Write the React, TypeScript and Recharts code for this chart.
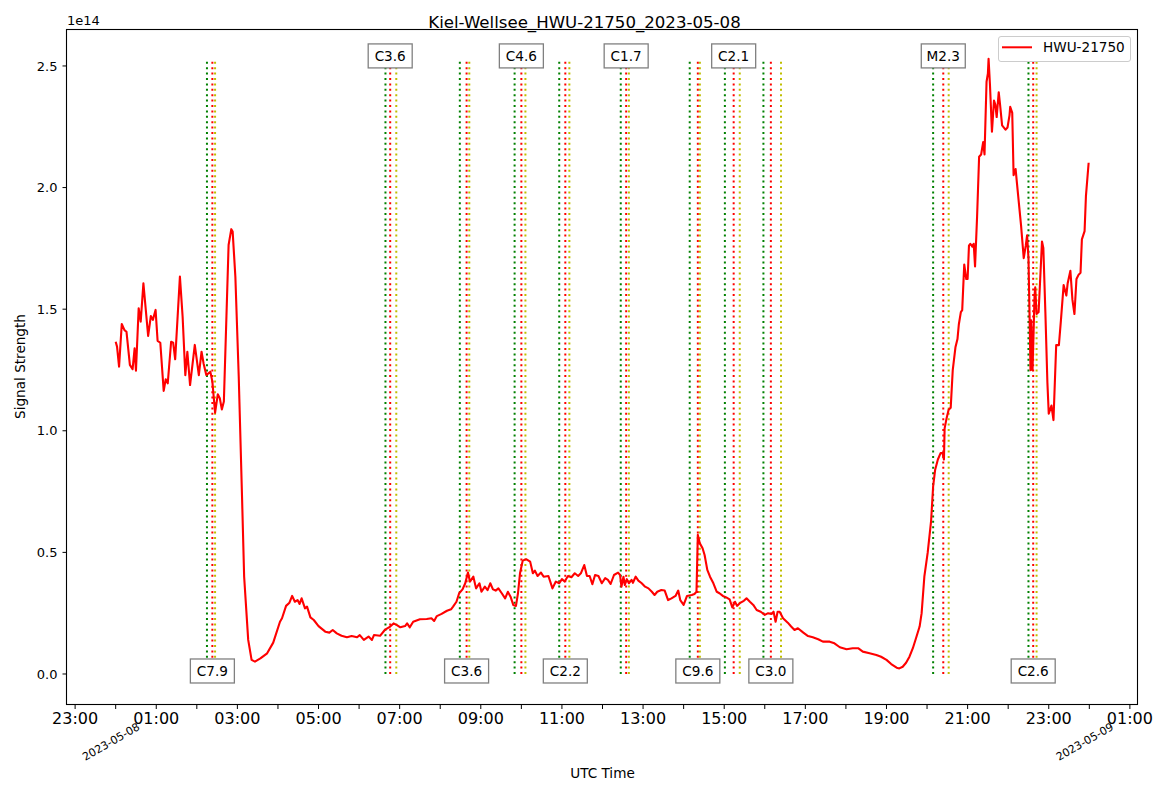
import React from 'react';
import {
  ComposedChart,
  Line,
  XAxis,
  YAxis,
  ReferenceLine,
  ReferenceDot,
  Legend,
} from 'recharts';

const FONT = '"DejaVu Sans", Verdana, sans-serif';
const TITLE = 'Kiel-Wellsee_HWU-21750_2023-05-08';
const SERIES_NAME = 'HWU-21750';

// minutes since 2023-05-08 00:00 UTC
const MINUTES = [
  0, 2, 5, 9, 13, 16, 21, 25, 28, 30, 34, 37, 41, 48, 52, 55, 59, 62, 66, 71,
  74, 77, 82, 85, 88, 95, 99, 103, 106, 110, 117, 123, 127, 130, 134, 140, 143, 147, 151, 154,
  157, 160, 167, 171, 173, 177, 182, 187, 190, 196, 201, 206, 214, 224, 233, 243, 246,
  252, 257, 261, 265, 269, 272, 275, 280, 283, 288, 293, 300, 310, 316, 321, 327, 334, 342, 349, 357,
  361, 367, 374, 379, 382, 391, 398, 406, 411, 416, 421, 428, 431, 435, 440, 450, 460, 467, 471, 475,
  482, 490, 496, 499, 504, 508, 513, 517, 521, 524, 529, 533, 538, 541, 546, 550, 554, 558, 562, 566,
  571, 576, 580, 584, 588, 592, 595, 598, 602, 607, 613, 617, 620, 624, 629, 633, 640, 646, 651, 656,
  660, 664, 669, 674, 679, 684, 688, 693, 697, 701, 705, 709, 714, 719, 724, 728, 732, 737, 743,
  746, 748, 751, 753, 756, 759, 763, 765, 769, 773, 778, 783, 788, 793, 797, 801, 807, 812, 817, 822,
  828, 832, 835, 840, 845, 852, 856, 859, 861, 864, 868, 871, 875, 879, 884, 889, 893, 898, 903, 908,
  912, 916, 919, 923, 929, 933, 938, 943, 948, 954, 960, 965, 970, 973, 976, 979, 982, 987, 994, 999,
  1004, 1009, 1017, 1024, 1031, 1039, 1046, 1056, 1063, 1071, 1081, 1090, 1098, 1105, 1115, 1125, 1132, 1140, 1147, 1155,
  1159, 1164, 1169, 1174, 1179, 1184, 1189, 1192, 1196, 1201, 1206,
  1209, 1212, 1216, 1220, 1223, 1225, 1226, 1229, 1232, 1235, 1238, 1242, 1245, 1247, 1250, 1252, 1255, 1258, 1260, 1262,
  1264, 1267, 1269, 1271, 1274, 1277, 1280, 1283, 1285, 1288, 1290, 1291, 1293, 1296, 1299, 1301, 1303, 1306, 1308, 1311,
  1316, 1319, 1322, 1323, 1326, 1328, 1331, 1333, 1336, 1339, 1343, 1346, 1348, 1350, 1352, 1353, 1354, 1356, 1359, 1360,
  1362, 1365, 1370, 1372, 1375, 1378, 1380, 1384, 1387, 1391, 1395, 1398, 1402, 1406, 1408, 1412, 1415, 1418, 1421, 1424,
  1427, 1429, 1433, 1435, 1439,
];

// signal strength in units of 1e14
const SIGNAL = [
  1.366, 1.346, 1.264, 1.439, 1.414, 1.407, 1.271, 1.253, 1.339, 1.247, 1.504, 1.449, 1.606, 1.39, 1.472, 1.456, 1.497, 1.37, 1.362, 1.164,
  1.212, 1.195, 1.366, 1.362, 1.294, 1.634, 1.469, 1.229, 1.325, 1.188, 1.353, 1.229, 1.325, 1.277, 1.229, 1.243, 1.202, 1.074, 1.15, 1.134,
  1.088, 1.12, 1.764, 1.829, 1.819, 1.634, 1.222, 0.715, 0.4, 0.14, 0.058, 0.051, 0.064, 0.085, 0.129, 0.215, 0.229,
  0.28, 0.293, 0.321, 0.297, 0.304, 0.288, 0.311, 0.27, 0.277, 0.233, 0.222, 0.197, 0.174, 0.17, 0.181, 0.167, 0.157, 0.151, 0.156, 0.151,
  0.16, 0.14, 0.154, 0.14, 0.16, 0.157, 0.181, 0.195, 0.208, 0.201, 0.192, 0.197, 0.208, 0.192, 0.215, 0.225, 0.226, 0.229, 0.218, 0.238,
  0.247, 0.26, 0.266, 0.277, 0.297, 0.332, 0.348, 0.373, 0.417, 0.38, 0.4, 0.352, 0.373, 0.338, 0.359, 0.345, 0.373, 0.348, 0.343, 0.352,
  0.332, 0.311, 0.338, 0.318, 0.284, 0.28, 0.332, 0.414, 0.466, 0.472, 0.462, 0.414, 0.425, 0.403, 0.417, 0.4, 0.403, 0.352, 0.38, 0.373,
  0.39, 0.38, 0.403, 0.398, 0.414, 0.403, 0.414, 0.448, 0.403, 0.403, 0.369, 0.407, 0.403, 0.373, 0.394, 0.387, 0.37, 0.407, 0.417,
  0.407, 0.359, 0.4, 0.366, 0.39, 0.373, 0.387, 0.375, 0.4, 0.384, 0.373, 0.359, 0.352, 0.338, 0.325, 0.338, 0.345, 0.343, 0.304, 0.311,
  0.321, 0.343, 0.304, 0.284, 0.321, 0.325, 0.329, 0.338, 0.572, 0.537, 0.517, 0.489, 0.428, 0.4, 0.373, 0.338, 0.332, 0.321, 0.315, 0.307,
  0.274, 0.297, 0.28, 0.291, 0.301, 0.311, 0.297, 0.284, 0.263, 0.256, 0.243, 0.25, 0.247, 0.256, 0.215, 0.256, 0.256, 0.229, 0.211, 0.195,
  0.181, 0.188, 0.17, 0.156, 0.151, 0.143, 0.133, 0.133, 0.126, 0.11, 0.102, 0.106, 0.106, 0.092, 0.085, 0.078, 0.071, 0.058, 0.041, 0.026,
  0.023, 0.03, 0.046, 0.071, 0.106, 0.15, 0.195, 0.25, 0.4, 0.5, 0.63,
  0.771, 0.84, 0.882, 0.908, 0.908, 0.882, 1.01, 1.053, 1.087, 1.095, 1.249, 1.343, 1.377, 1.437, 1.488, 1.496, 1.684, 1.624, 1.624, 1.761,
  1.769, 1.757, 1.769, 1.676, 1.88, 2.127, 2.136, 2.187, 2.136, 2.435, 2.469, 2.529, 2.426, 2.23, 2.358, 2.341, 2.29, 2.392, 2.341, 2.256,
  2.238, 2.247, 2.298, 2.332, 2.307, 2.051, 2.076, 2.017, 1.931, 1.846, 1.71, 1.761, 1.804, 1.71, 1.419, 1.249, 1.454, 1.249, 1.556, 1.59,
  1.48, 1.488, 1.778, 1.752, 1.488, 1.198, 1.07, 1.104, 1.044, 1.352, 1.352, 1.454, 1.599, 1.556, 1.607, 1.658, 1.539, 1.48, 1.624, 1.641,
  1.65, 1.787, 1.821, 1.965, 2.102,
];

// GOES flares: start / peak / end (minutes) and class
const FLARE_START = [135, 399, 509, 590, 656, 747, 849, 901, 958, 1209, 1350];
const FLARE_PEAK = [143, 406, 519, 600, 665, 755, 861, 914, 969, 1224, 1357];
const FLARE_END = [147, 415, 523, 606, 671, 759, 864, 923, 984, 1232, 1362];
const FLARE_CLASS = ['C7.9', 'C3.6', 'C3.6', 'C4.6', 'C2.2', 'C1.7', 'C9.6', 'C2.1', 'C3.0', 'M2.3', 'C2.6'];

const X_TICKS = [
  -60, 0, 60, 120, 180, 240, 300, 360, 420, 480, 540, 600, 660, 720,
  780, 840, 900, 960, 1020, 1080, 1140, 1200, 1260, 1320, 1380, 1440, 1500,
];
const X_LABELS = [
  '23:00', '', '01:00', '', '03:00', '', '05:00', '', '07:00', '', '09:00', '', '11:00', '',
  '13:00', '', '15:00', '', '17:00', '', '19:00', '', '21:00', '', '23:00', '', '01:00',
];
const DATE_TICKS = [0, 1440];
const DATE_LABELS = ['2023-05-08', '2023-05-09'];
const Y_TICKS = [0, 0.5, 1, 1.5, 2, 2.5];

const rows = MINUTES.map((t, i) => ({ t, v: SIGNAL[i] }));
const yMax = Math.max(...SIGNAL);

function HourTick({ x, y, payload }: any) {
  const i = X_TICKS.indexOf(payload.value);
  const label = X_LABELS[i];
  const d = DATE_TICKS.indexOf(payload.value);
  const ax = x + 25;
  const ay = y + 25;
  return (
    <g>
      <line x1={x} x2={x} y1={y} y2={y + 5} stroke="#000" strokeWidth={1} />
      {label && (
        <text x={x} y={y + 19.5} textAnchor="middle" fontSize={16} fontFamily={FONT} fill="#000">
          {label}
        </text>
      )}
      {d >= 0 && (
        <text
          x={ax}
          y={ay}
          textAnchor="end"
          fontSize={11}
          fontFamily={FONT}
          fill="#000"
          transform={`rotate(-30 ${ax} ${ay})`}
        >
          {DATE_LABELS[d]}
        </text>
      )}
    </g>
  );
}

function FlareLabel({ cx, cy, text }: any) {
  const w = 44;
  const h = 24;
  return (
    <g>
      <rect x={cx - w / 2} y={cy - 3 - h / 2} width={w} height={h} fill="#fff" stroke="#808080" strokeWidth={1.3} />
      <text x={cx} y={cy - 3} dy="0.36em" textAnchor="middle" fontSize={13.6} fontFamily={FONT} fill="#000">
        {text}
      </text>
    </g>
  );
}

function LegendBox() {
  return (
    <div
      style={{
        boxSizing: 'border-box',
        width: 133,
        height: 26,
        border: '1px solid #cccccc',
        borderRadius: 3,
        background: 'rgba(255,255,255,0.8)',
        position: 'relative',
      }}
    >
      <svg width={131} height={24} style={{ position: 'absolute', left: 0, top: 0 }}>
        <line x1={3} x2={33} y1={10.3} y2={10.3} stroke="#ff0000" strokeWidth={2} />
        <text x={44} y={15} fontSize={13.6} fontFamily={FONT} fill="#000">
          {SERIES_NAME}
        </text>
      </svg>
    </div>
  );
}

export default function App() {
  return (
    <div style={{ position: 'absolute', left: 0, top: 0, width: 1169, height: 792, background: '#fff' }}>
      <ComposedChart
        width={1169}
        height={792}
        data={rows}
        margin={{ top: 29, right: 31, left: 0, bottom: 0 }}
      >
        <XAxis
          dataKey="t"
          type="number"
          domain={[-72, 1512]}
          ticks={X_TICKS}
          interval={0}
          tick={<HourTick />}
          tickLine={false}
          tickSize={0}
          tickMargin={0}
          axisLine={false}
          height={88}
          allowDataOverflow
        />
        <YAxis
          type="number"
          domain={[-0.1234, 2.652]}
          ticks={Y_TICKS}
          tickFormatter={(v: number) => v.toFixed(1)}
          tick={{ fontSize: 13, fill: '#000', fontFamily: FONT }}
          tickLine={{ stroke: '#000' }}
          tickSize={4.5}
          tickMargin={5}
          axisLine={false}
          width={67}
          allowDataOverflow
        />
        {FLARE_START.map((x, i) => (
          <ReferenceLine
            key={`s${i}`}
            segment={[{ x, y: 0 }, { x, y: yMax }]}
            stroke="#008000"
            strokeWidth={2}
            strokeDasharray="2 3.4"
          />
        ))}
        {FLARE_PEAK.map((x, i) => (
          <ReferenceLine
            key={`p${i}`}
            segment={[{ x, y: 0 }, { x, y: yMax }]}
            stroke="#ff0000"
            strokeWidth={2}
            strokeDasharray="2 3.4"
          />
        ))}
        {FLARE_END.map((x, i) => (
          <ReferenceLine
            key={`e${i}`}
            segment={[{ x, y: 0 }, { x, y: yMax }]}
            stroke="#bfbf00"
            strokeWidth={2}
            strokeDasharray="2 3.4"
          />
        ))}
        <Line
          type="linear"
          dataKey="v"
          name={SERIES_NAME}
          stroke="#ff0000"
          strokeWidth={2.1}
          strokeLinejoin="round"
          dot={false}
          activeDot={false}
          isAnimationActive={false}
        />
        {FLARE_PEAK.map((x, i) => (
          <ReferenceDot
            key={`l${i}`}
            x={x}
            y={i % 2 === 0 ? 0 : yMax}
            r={0}
            shape={(p: any) => <FlareLabel cx={p.cx} cy={p.cy} text={FLARE_CLASS[i]} />}
          />
        ))}
        <Legend
          layout="horizontal"
          verticalAlign="middle"
          align="center"
          content={() => <LegendBox />}
          wrapperStyle={{ position: 'absolute', left: 998, top: 36, width: 133, height: 26 }}
        />
      </ComposedChart>
      <svg
        width={1169}
        height={792}
        style={{ position: 'absolute', left: 0, top: 0, pointerEvents: 'none' }}
      >
        <rect x={66.5} y={29.5} width={1071} height={675} fill="none" stroke="#000" strokeWidth={1.1} />
        <text x={584.5} y={28} textAnchor="middle" fontSize={16.6} fontFamily={FONT} fill="#000">
          {TITLE}
        </text>
        <text x={67} y={25} fontSize={13} fontFamily={FONT} fill="#000">
          1e14
        </text>
        <text
          x={25}
          y={366.5}
          textAnchor="middle"
          fontSize={13.6}
          fontFamily={FONT}
          fill="#000"
          transform="rotate(-90 25 366.5)"
        >
          Signal Strength
        </text>
        <text x={602.5} y={778} textAnchor="middle" fontSize={13.6} fontFamily={FONT} fill="#000">
          UTC Time
        </text>
      </svg>
    </div>
  );
}
